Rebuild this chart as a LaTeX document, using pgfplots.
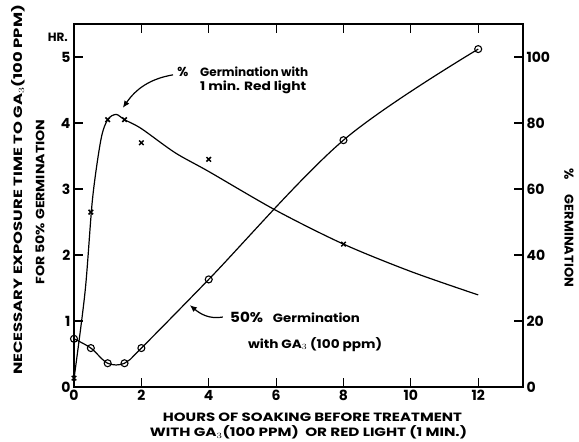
\documentclass[border=0pt]{standalone}
\usepackage{fontspec}
\setmainfont{Poppins}
\usepackage{graphicx}
\usepackage{pgfplots}
\pgfplotsset{compat=1.18}
\usetikzlibrary{arrows.meta}
\newcommand{\fitw}[2]{\resizebox{#1}{\height}{#2}}
\begin{document}
\begin{tikzpicture}
\useasboundingbox (-74pt,-55pt) rectangle (505pt,387pt);
\begin{axis}[
  name=ax,
  at={(0pt,0pt)}, anchor=south west,
  scale only axis, width=449pt, height=363pt,
  xmin=0, xmax=13.33, ymin=0, ymax=5.5,
  xtick={0,2,...,12}, ytick={0,1,...,5},
  xtick pos=both, ytick pos=left,
  tick align=inside, major tick length=9pt,
  axis line style={line width=1.4pt},
  every tick/.style={line width=1.2pt, black},
  tick label style={font=\bfseries\fontsize{14}{14}\selectfont},
  /pgf/number format/assume math mode=true,
  clip=false,
]
% curve: 50% germination with GA3 (hr)
\addplot[line width=1.2pt, smooth, tension=0.55] coordinates {
  (0,0.73) (0.5,0.59) (1,0.36) (1.5,0.36) (2,0.59) (4,1.63) (8,3.74) (12,5.12)};
\addplot[only marks, mark=o, mark size=3.5pt, line width=1.1pt, fill=white] coordinates {
  (0,0.73) (0.5,0.59) (1,0.36) (1.5,0.36) (2,0.59) (4,1.63) (8,3.74) (12,5.12)};
% annotations
\node[anchor=base west, font=\bfseries\fontsize{13}{13}\selectfont, inner sep=0pt] at (axis cs:3.06,4.71) {\fitw{11pt}{\%}};
\node[anchor=base west, font=\bfseries\fontsize{12}{12}\selectfont, inner sep=0pt] at (axis cs:3.74,4.71) {\fitw{108pt}{Germination with}};
\node[anchor=base west, font=\bfseries\fontsize{12}{12}\selectfont, inner sep=0pt] at (axis cs:3.74,4.50) {\fitw{106pt}{1 min. Red light}};
\draw[line width=1.2pt, -{Latex[length=7pt,width=6pt]}] (axis cs:2.94,4.73) to[out=190, in=55] (axis cs:1.45,4.23);
\node[anchor=base west, font=\bfseries\fontsize{14}{14}\selectfont, inner sep=0pt] at (axis cs:4.63,0.97) {\fitw{33pt}{50\%}};
\node[anchor=base west, font=\bfseries\fontsize{12}{12}\selectfont, inner sep=0pt] at (axis cs:5.90,0.97) {\fitw{87pt}{Germination}};
\node[anchor=base west, font=\bfseries\fontsize{12}{12}\selectfont, inner sep=0pt] at (axis cs:5.16,0.59) {\fitw{134pt}{with GA$_3$ (100 ppm)}};
\draw[line width=1.2pt, -{Latex[length=7pt,width=6pt]}] (axis cs:4.42,1.06) to[out=190, in=-40] (axis cs:3.44,1.24);
\end{axis}
\begin{axis}[
  at={(0pt,0pt)}, anchor=south west,
  scale only axis, width=449pt, height=363pt,
  xmin=0, xmax=13.33, ymin=0, ymax=110,
  axis x line=none, axis y line*=right,
  ytick={0,20,...,100},
  tick align=inside, major tick length=9pt,
  axis line style={line width=1.4pt, -},
  every tick/.style={line width=1.2pt, black},
  tick label style={font=\bfseries\fontsize{14}{14}\selectfont},
  /pgf/number format/assume math mode=true,
  clip=false,
]
% curve: % germination with 1 min red light
\addplot[line width=1.2pt, smooth, tension=0.5] coordinates {
  (0,2.5) (0.33,29) (0.55,57) (0.8,75) (1.0,81) (1.25,82.6) (1.5,81) (2,78.3) (3,71) (4,65.3) (6,53.5) (8,43.3) (10,35) (12,27.9)};
\addplot[only marks, mark=x, mark size=3.2pt, line width=1.5pt] coordinates {
  (0,2.7) (0.5,53) (1,81) (1.5,81) (2,74) (4,69) (8,43.3)};
\end{axis}
% axis labels
\node[font=\bfseries\fontsize{12}{12}\selectfont, inner sep=0pt] at (238.5pt,-30pt) {\fitw{299pt}{HOURS OF SOAKING BEFORE TREATMENT}};
\node[font=\bfseries\fontsize{12}{12}\selectfont, inner sep=0pt] at (234.5pt,-45pt) {\fitw{317pt}{WITH GA$_3$(100 PPM)\ \ OR RED LIGHT (1 MIN.)}};
\node[rotate=90, font=\bfseries\fontsize{12}{12}\selectfont, inner sep=0pt] at (-56pt,197pt) {\fitw{370pt}{NECESSARY EXPOSURE TIME TO GA$_3$(100 PPM)}};
\node[rotate=90, font=\bfseries\fontsize{12}{12}\selectfont, inner sep=0pt] at (-34pt,185pt) {\fitw{165pt}{FOR 50\% GERMINATION}};
\node[rotate=-90, font=\bfseries\fontsize{13}{13}\selectfont, inner sep=0pt] at (495pt,213pt) {\%};
\node[rotate=-90, font=\bfseries\fontsize{12.5}{12.5}\selectfont, inner sep=0pt] at (495pt,146pt) {\fitw{92pt}{GERMINATION}};
\node[anchor=east, font=\bfseries\fontsize{12}{12}\selectfont, inner sep=0pt] at (-6pt,349.5pt) {HR.};
\end{tikzpicture}
\end{document}
